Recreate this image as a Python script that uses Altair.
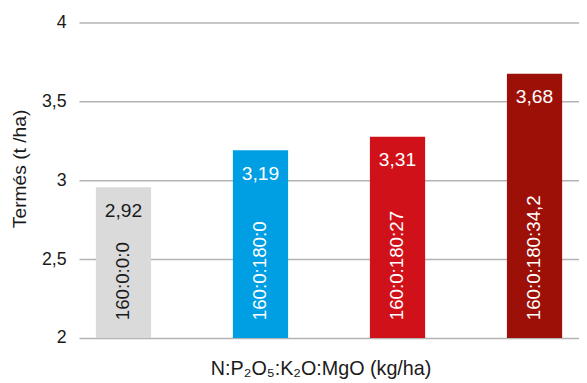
import altair as alt
import pandas as pd

categories = ["160:0:0:0", "160:0:180:0", "160:0:180:27", "160:0:180:34,2"]
heights = [2.955, 3.19, 3.275, 3.675]
value_labels = ["2,92", "3,19", "3,31", "3,68"]
colors = ["#dadada", "#009fe3", "#d0111a", "#9d1007"]
label_colors = ["#1a1a1a", "#ffffff", "#ffffff", "#ffffff"]
y_ticks = [2, 2.5, 3, 3.5, 4]

df = pd.DataFrame({
    "cat": categories,
    "h": heights,
    "lab": value_labels,
    "col": colors,
    "lcol": label_colors,
})

FONT = "Liberation Sans"

x_enc = alt.X(
    "cat:N",
    sort=categories,
    scale=alt.Scale(paddingInner=0.597, paddingOuter=0.123),
    axis=alt.Axis(
        labels=False, ticks=False, domain=False, grid=False,
        title="N:P₂O₅:K₂O:MgO (kg/ha)",
        titleFont=FONT, titleFontSize=20, titleFontWeight="normal",
        titleColor="#1a1a1a", titleX=245, titleY=37,
        titleBaseline="alphabetic", titleAlign="center",
    ),
)

y_scale = alt.Scale(domain=[2, 4], nice=False, zero=False)

bars = alt.Chart(df).mark_bar().encode(
    x=x_enc,
    y=alt.Y(
        "h:Q",
        scale=y_scale,
        axis=alt.Axis(
            values=y_ticks,
            labelExpr="replace(format(datum.value, '~g'), '.', ',')",
            ticks=False, domain=False, grid=True,
            gridColor="#b3b3b3", gridWidth=1.5,
            labelFont=FONT, labelFontSize=18, labelColor="#1a1a1a",
            labelPadding=13,
            title="Termés (t /ha)",
            titleFont=FONT, titleFontSize=19.5, titleFontWeight="normal",
            titleColor="#1a1a1a", titleX=-60, titleY=148,
            titleAngle=270, titleAlign="center", titleBaseline="middle",
        ),
    ),
    y2=alt.datum(2),
    color=alt.Color("col:N", scale=None, legend=None),
)

values_text = alt.Chart(df).mark_text(
    font=FONT, fontSize=19.5, baseline="alphabetic", align="center", dy=30
).encode(
    x=alt.X("cat:N", sort=categories),
    y=alt.Y("h:Q", scale=y_scale),
    text="lab:N",
    color=alt.Color("lcol:N", scale=None, legend=None),
)

cat_text = alt.Chart(df).mark_text(
    font=FONT, fontSize=19, baseline="middle", align="left", angle=270, dx=18
).encode(
    x=alt.X("cat:N", sort=categories),
    y=alt.datum(2),
    text="cat:N",
    color=alt.Color("lcol:N", scale=None, legend=None),
)

chart = alt.layer(bars, values_text, cat_text).properties(
    width=507,
    height=320,
    padding={"left": 72, "top": 12, "right": 0, "bottom": 43},
    autosize=alt.AutoSizeParams(type="none"),
).configure_view(stroke=None)

chart.save("out.html", embed_options={"renderer": "svg", "actions": False})
